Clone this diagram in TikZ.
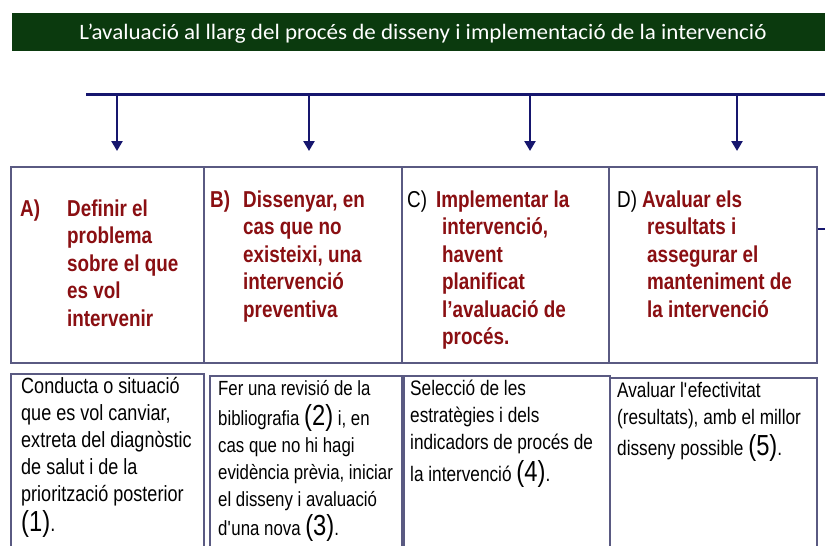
\documentclass[tikz,border=0pt]{standalone}
\usepackage{graphicx}
\usepackage{fontspec}
\setmainfont{Liberation Sans}[FakeStretch=0.82]
\newfontfamily\titlefont{Carlito}
\usetikzlibrary{arrows.meta}
\definecolor{bargreen}{HTML}{0B3A0E}
\definecolor{navy}{HTML}{16166E}
\definecolor{boxline}{HTML}{5A5A82}
\definecolor{darkred}{HTML}{8A0F12}
\newcommand{\bignum}[1]{{\fontsize{29}{27}\selectfont #1}}
\begin{document}
\begin{tikzpicture}[x=1pt,y=-1pt,
  stage/.style={draw=boxline,line width=1.5pt,fill=white,inner sep=0pt,anchor=north west},
  headtxt/.style={anchor=north west,inner sep=0pt,align=left,text=darkred,
    font=\fontsize{23}{27.5}\selectfont\bfseries},
  headlab/.style={anchor=base west,inner sep=0pt,font=\fontsize{23}{27.5}\selectfont},
  bodytxt/.style={anchor=north west,inner sep=0pt,align=left,text=black,
    font=\fontsize{21}{27}\selectfont},
  bus/.style={draw=navy,line width=3pt},
  drop/.style={draw=navy,line width=2.5pt,-{Triangle[width=11pt,length=10pt]}}
]
\useasboundingbox (0,0) rectangle (825,546);
\clip (0,0) rectangle (825,546);

% title bar
\node (bar) [fill=bargreen,minimum width=814pt,minimum height=38.5pt,anchor=north west,inner sep=0pt] at (12,12.5) {};
\node (title) [anchor=base,text=white,inner sep=0pt] at (423,39)
  {\resizebox{687pt}{\height}{\titlefont\fontsize{22}{26}\selectfont L’avaluació al llarg del procés de disseny i implementació de la intervenció}};

% bus line and arrows
\coordinate (bus0) at (86,94);
\coordinate (bus1) at (830,94);
\draw[bus] (bus0) -- (bus1);
\coordinate (a1) at (117,94);  \coordinate (h1) at (117,151);
\coordinate (a2) at (309,94);  \coordinate (h2) at (309,151);
\coordinate (a3) at (530,94);  \coordinate (h3) at (530,151);
\coordinate (a4) at (737,94);  \coordinate (h4) at (737,151);
\draw[drop] (a1) -- (h1);
\draw[drop] (a2) -- (h2);
\draw[drop] (a3) -- (h3);
\draw[drop] (a4) -- (h4);

% top boxes
\node (boxA) [stage,minimum width=193pt,minimum height=196pt] at (10,166) {};
\node (boxB) [stage,minimum width=198pt,minimum height=196pt] at (203,166) {};
\node (boxC) [stage,minimum width=207pt,minimum height=196pt] at (401,166) {};
\node (boxD) [stage,minimum width=208pt,minimum height=196pt] at (608,166) {};
\coordinate (tick) at (830,229);
\draw[navy,line width=2.5pt] (boxD.east |- tick) -- (tick);

% bottom boxes
\node (boxE) [stage,minimum width=193pt,minimum height=200pt] at (10,373) {};
\node (boxF) [stage,minimum width=192pt,minimum height=200pt] at (209,375) {};
\node (boxG) [stage,minimum width=206pt,minimum height=200pt] at (403,375) {};
\node (boxH) [stage,minimum width=207pt,minimum height=200pt] at (609,377) {};

% top texts
\node (labA) [headlab,text=darkred,font=\fontsize{23}{27.5}\selectfont\bfseries] at (20,216) {A)};
\node (txtA) [headtxt] at (67,196.75) {\strut Definir el\\problema\\sobre el que\\es vol\\intervenir};
\node (labB) [headlab,text=darkred,font=\fontsize{23}{27.5}\selectfont\bfseries] at (210,207) {B)};
\node (txtB) [headtxt] at (243,187.75) {\strut Dissenyar, en\\cas que no\\existeixi, una\\intervenció\\preventiva};
\node (labC) [headlab] at (407,207) {C)};
\node (txtC) [headtxt] at (442,187.75) {\strut\hspace*{-6pt}Implementar la\\intervenció,\\havent\\planificat\\l’avaluació de\\procés.};
\node (labD) [headlab] at (617,207) {D)};
\node (txtD) [headtxt] at (647,187.75) {\strut\hspace*{-5pt}Avaluar els\\resultats i\\assegurar el\\manteniment de\\la intervenció};

% bottom texts
\node (txtE) [bodytxt,font=\fontsize{22}{27}\selectfont] at (21,374.1)
  {\strut Conducta o situació\\que es vol canviar,\\extreta del diagnòstic\\de salut i de la\\priorització posterior\\[3pt]\bignum{(1)}.};
\node (txtF) [bodytxt,font=\fontsize{20.5}{27}\selectfont] at (218,376.1)
  {\strut Fer una revisió de la\\bibliografia \bignum{(2)} i, en\\cas que no hi hagi\\evidència prèvia, iniciar\\el disseny i avaluació\\[2pt]d\textquotesingle una nova \bignum{(3)}.};
\node (txtG) [bodytxt] at (410,376.1)
  {\strut Selecció de les\\estratègies i dels\\indicadors de procés de\\[5pt]la intervenció \bignum{(4)}.};
\node (txtH) [bodytxt] at (617,378.1)
  {\strut Avaluar l\textquotesingle efectivitat\\(resultats), amb el millor\\[4pt]disseny possible \bignum{(5)}.};
\end{tikzpicture}
\end{document}
